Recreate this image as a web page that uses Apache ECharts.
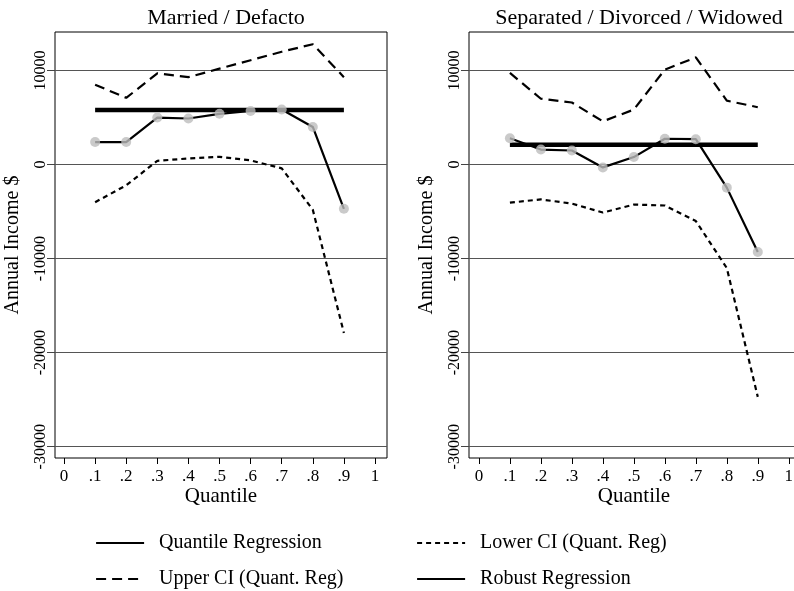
<!DOCTYPE html>
<html>
<head>
<meta charset="utf-8">
<script src="https://cdn.jsdelivr.net/npm/echarts@6/dist/echarts.min.js"></script>
<style>
  html, body { margin: 0; padding: 0; background: #fff; }
  #main { width: 794px; height: 591px; }
</style>
</head>
<body>
<div id="main"></div>
<script>
// quantiles and tick labels
var quantiles = [0.1, 0.2, 0.3, 0.4, 0.5, 0.6, 0.7, 0.8, 0.9];
var xTicks = [0, 0.1, 0.2, 0.3, 0.4, 0.5, 0.6, 0.7, 0.8, 0.9, 1];
var xTickLabels = ['0', '.1', '.2', '.3', '.4', '.5', '.6', '.7', '.8', '.9', '1'];
var yTicks = [-30000, -20000, -10000, 0, 10000];

var panelTitles = ['Married / Defacto', 'Separated / Divorced / Widowed'];
var legendNames = ['Quantile Regression', 'Upper CI (Quant. Reg)', 'Lower CI (Quant. Reg)', 'Robust Regression'];

// Married / Defacto
var marQuant = [2400, 2400, 5000, 4900, 5400, 5700, 5850, 4000, -4700];
var marUpper = [8500, 7100, 9700, 9300, 10200, 11100, 12000, 12800, 9300];
var marLower = [-4000, -2200, 400, 650, 830, 450, -400, -4800, -17900];
var marRobust = 5800;

// Separated / Divorced / Widowed
var sepQuant = [2800, 1600, 1500, -300, 800, 2750, 2700, -2450, -9300];
var sepUpper = [9750, 7000, 6600, 4600, 5850, 10100, 11400, 6800, 6100];
var sepLower = [-4050, -3700, -4150, -5100, -4250, -4350, -6000, -11000, -24700];
var sepRobust = 2100;

var FONT = 'Liberation Serif';

function pairs(ys) {
    return quantiles.map(function (q, i) { return [q, ys[i]]; });
}

function tickLabel(v) {
    var i = xTicks.indexOf(v);
    return i >= 0 ? xTickLabels[i] : '';
}

function xAxisFor(idx, min, max) {
    return {
        type: 'value', gridIndex: idx, min: min, max: max,
        name: 'Quantile', nameLocation: 'middle', nameGap: 28, nameMoveOverlap: false,
        nameTextStyle: { fontFamily: FONT, fontSize: 21, color: '#000' },
        axisLine: { show: false, onZero: false },
        axisTick: { show: true, length: 6, customValues: xTicks, lineStyle: { color: '#000' } },
        axisLabel: { customValues: xTicks, formatter: tickLabel, fontFamily: FONT, fontSize: 17, color: '#000', margin: 10 },
        splitLine: { show: false }
    };
}

function yAxisFor(idx) {
    return {
        type: 'value', gridIndex: idx, min: -31200, max: 14100,
        name: 'Annual Income $', nameLocation: 'middle', nameGap: 32, nameMoveOverlap: false,
        nameTextStyle: { fontFamily: FONT, fontSize: 20, color: '#000' },
        axisLine: { show: false, onZero: false },
        axisTick: { show: true, length: 8, customValues: yTicks, lineStyle: { color: '#444' } },
        axisLabel: {
            customValues: yTicks, rotate: 90, fontFamily: FONT, fontSize: 16, color: '#000', margin: 6,
            formatter: function (v) { return String(v); }
        },
        splitLine: { show: true, lineStyle: { color: '#555', width: 1 } }
    };
}

function panelSeries(idx, quant, upper, lower, robust) {
    return [{
        name: legendNames[0], type: 'line', xAxisIndex: idx, yAxisIndex: idx,
        data: pairs(quant), symbol: 'none', z: 3,
        lineStyle: { color: '#000', width: 2.2 }
    }, {
        name: 'dots', type: 'scatter', xAxisIndex: idx, yAxisIndex: idx,
        data: pairs(quant), symbolSize: 10, z: 5,
        itemStyle: { color: '#bdbdbd' }
    }, {
        name: legendNames[1], type: 'line', xAxisIndex: idx, yAxisIndex: idx,
        data: pairs(upper), symbol: 'none', z: 2,
        lineStyle: { color: '#000', width: 2.2, type: [10, 6] }
    }, {
        name: legendNames[2], type: 'line', xAxisIndex: idx, yAxisIndex: idx,
        data: pairs(lower), symbol: 'none', z: 2,
        lineStyle: { color: '#000', width: 2.2, type: [5, 4] }
    }, {
        name: legendNames[3], type: 'line', xAxisIndex: idx, yAxisIndex: idx,
        data: [[quantiles[0], robust], [quantiles[quantiles.length - 1], robust]],
        symbol: 'none', z: 4,
        lineStyle: { color: '#000', width: 4.5 }
    }];
}

function legendAt(name, left, top) {
    return {
        left: left, top: top, orient: 'horizontal',
        itemWidth: 48, itemHeight: 14,
        itemStyle: { opacity: 0 },
        lineStyle: { width: 2.2 },
        textStyle: { fontFamily: FONT, fontSize: 20, color: '#000', padding: [0, 0, 0, 10] },
        selectedMode: false,
        data: [name]
    };
}

var option = {
    backgroundColor: '#fff',
    animation: false,
    title: [{
        text: panelTitles[0], left: 221, top: 2, textAlign: 'center',
        textStyle: { fontFamily: FONT, fontSize: 22, fontWeight: 'normal', color: '#000' }
    }, {
        text: panelTitles[1], left: 634, top: 2, textAlign: 'center',
        textStyle: { fontFamily: FONT, fontSize: 22, fontWeight: 'normal', color: '#000' }
    }],
    legend: [
        legendAt(legendNames[0], 90, 528),
        legendAt(legendNames[1], 90, 564),
        legendAt(legendNames[2], 411, 528),
        legendAt(legendNames[3], 411, 564)
    ],
    grid: [
        { left: 55, top: 32, width: 332, height: 426, outerBoundsMode: 'none', show: true, borderColor: '#000', borderWidth: 1, backgroundColor: 'transparent' },
        { left: 469, top: 32, width: 330, height: 426, outerBoundsMode: 'none', show: true, borderColor: '#000', borderWidth: 1, backgroundColor: 'transparent' }
    ],
    xAxis: [xAxisFor(0, -0.029, 1.0386), xAxisFor(1, -0.032, 1.033)],
    yAxis: [yAxisFor(0), yAxisFor(1)],
    series: panelSeries(0, marQuant, marUpper, marLower, marRobust)
        .concat(panelSeries(1, sepQuant, sepUpper, sepLower, sepRobust))
};

var myChart = echarts.init(document.getElementById('main'));
myChart.setOption(option);
</script>
</body>
</html>
